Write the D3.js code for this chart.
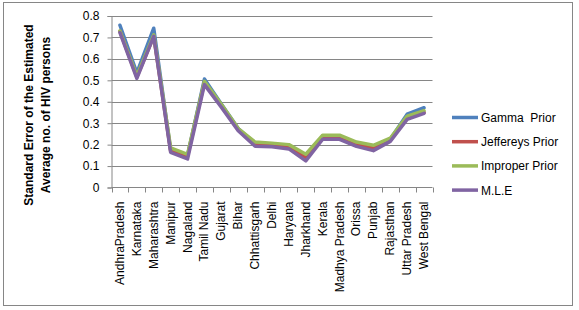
<!DOCTYPE html>
<html><head><meta charset="utf-8">
<script src="https://cdn.jsdelivr.net/npm/d3@7"></script>
<style>body{margin:0;background:#fff}svg{display:block}text{font-family:"Liberation Sans",Arial,sans-serif}</style>
</head><body><svg id="c" width="579" height="310"></svg>
<script>
const categories = ["AndhraPradesh","Karnataka","Maharashtra","Manipur","Nagaland","Tamil Nadu","Gujarat","Bihar","Chhattisgarh","Delhi","Haryana","Jharkhand","Kerala","Madhya Pradesh","Orissa","Punjab","Rajasthan","Uttar Pradesh","West Bengal"];
const gammaPrior =     [0.757,0.535,0.743,0.175,0.150,0.506,0.390,0.275,0.205,0.200,0.190,0.140,0.240,0.240,0.205,0.185,0.225,0.342,0.372];
const jeffereysPrior = [0.728,0.515,0.705,0.170,0.145,0.490,0.382,0.270,0.198,0.195,0.190,0.140,0.234,0.234,0.200,0.185,0.220,0.328,0.350];
const improperPrior =  [0.730,0.520,0.712,0.185,0.155,0.495,0.388,0.275,0.212,0.207,0.200,0.155,0.244,0.244,0.212,0.197,0.230,0.333,0.358];
const mle =            [0.722,0.509,0.705,0.164,0.133,0.480,0.375,0.265,0.192,0.190,0.180,0.124,0.225,0.225,0.192,0.172,0.215,0.318,0.346];
const seriesNames = ["Gamma  Prior","Jeffereys Prior","Improper Prior","M.L.E"];
const seriesColors = ["#4F81BD","#C0504D","#9BBB59","#8064A2"];
const yTicks = [0,0.1,0.2,0.3,0.4,0.5,0.6,0.7,0.8];
const yTitle = ["Standard Error of the Estimated","Average no. of HIV persons"];

const series = [gammaPrior, jeffereysPrior, improperPrior, mle];
const svg = d3.select("#c");
const grey = "#868686";
svg.append("rect").attr("x",3.5).attr("y",2.5).attr("width",569).attr("height",303).attr("fill","#fff").attr("stroke",grey);

const L=111.5, R=432.5, T=16, B=187.5;
const x = d3.scaleBand().domain(categories).range([L,R]);
const y = d3.scaleLinear().domain([0,0.8]).range([B,T]);

// gridlines
svg.append("g").selectAll("line").data(yTicks.filter(d=>d>0)).join("line")
  .attr("x1",L).attr("x2",R).attr("y1",d=>Math.round(y(d))+0.5).attr("y2",d=>Math.round(y(d))+0.5)
  .attr("stroke",grey).attr("stroke-width",1);

// y axis
const ya = svg.append("g").attr("transform",`translate(${L},0)`)
  .call(d3.axisLeft(y).tickValues(yTicks).tickFormat(d=>d===0?"0":d3.format(".1f")(d)).tickSize(4).tickPadding(8));
ya.select(".domain").attr("stroke",grey);
ya.selectAll(".tick line").attr("stroke",grey);
ya.selectAll("text").attr("font-size",12).attr("fill","#000").style("font-family","Liberation Sans, Arial, sans-serif");

// x axis
const xa = svg.append("g").attr("transform",`translate(0,${B})`);
xa.append("line").attr("x1",L).attr("x2",R).attr("stroke",grey);
const bounds = categories.map(c=>x(c)).concat([R]);
xa.selectAll("line.t").data(bounds).join("line").attr("class","t")
  .attr("x1",d=>Math.round(d)+0.5).attr("x2",d=>Math.round(d)+0.5).attr("y1",0).attr("y2",5).attr("stroke",grey);
xa.selectAll("text").data(categories).join("text")
  .attr("transform",d=>`translate(${x(d)+x.bandwidth()/2+4},14) rotate(-90)`)
  .attr("text-anchor","end").attr("font-size",12).attr("fill","#000").text(d=>d);

// lines
const line = d3.line().x((d,i)=>x(categories[i])+x.bandwidth()/2).y(d=>y(d));
svg.append("g").selectAll("path").data(series).join("path")
  .attr("d",line).attr("fill","none").attr("stroke",(d,i)=>seriesColors[i])
  .attr("stroke-width",3.5).attr("stroke-linejoin","round").attr("stroke-linecap","round");

// y title
const yt = svg.append("text").attr("transform","translate(33,115) rotate(-90)")
  .attr("text-anchor","middle").attr("font-size",12).attr("font-weight","bold");
yt.selectAll("tspan").data(yTitle).join("tspan").attr("x",0).attr("dy",(d,i)=>i===0?0:17).text(d=>d);

// legend
const lg = svg.append("g").selectAll("g").data(seriesNames).join("g")
  .attr("transform",(d,i)=>`translate(452,${117.5+i*24.2})`);
lg.append("line").attr("x1",0).attr("x2",26).attr("stroke",(d,i)=>seriesColors[i]).attr("stroke-width",3.5);
lg.append("text").attr("x",29).attr("y",4.5).attr("font-size",12).attr("fill","#000").style("white-space","pre").text(d=>d);
</script></body></html>
